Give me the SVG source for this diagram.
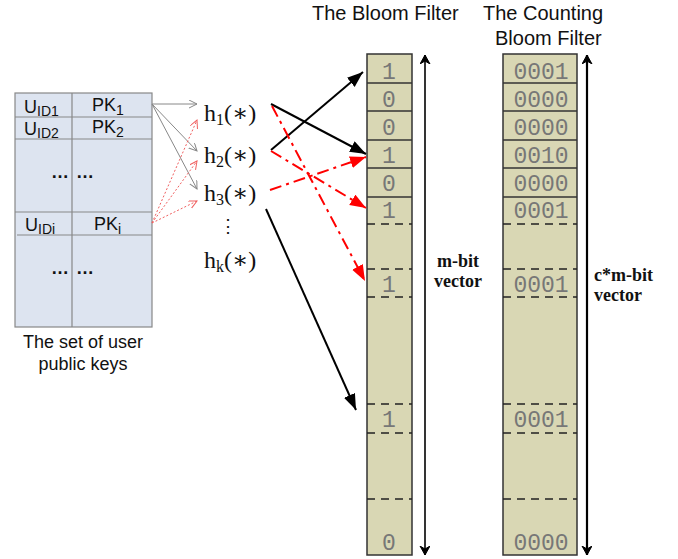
<svg xmlns="http://www.w3.org/2000/svg" width="678" height="559" viewBox="0 0 678 559">
<style>
.sans{font-family:"Liberation Sans",Arial,sans-serif;fill:#111}
.ser{font-family:"Liberation Serif","DejaVu Serif",serif;fill:#111}
.bold{font-family:"Liberation Serif",serif;font-weight:bold;fill:#111}
.mono{font-family:"Liberation Mono","Courier New",monospace;font-size:23px;fill:#777;text-anchor:middle}
.cell{fill:#d9d7b4;stroke:#333;stroke-width:1.5}
.sol{stroke:#333;stroke-width:1.5}
.dash{stroke:#222;stroke-width:1.5;stroke-dasharray:8 6}
.tbl{fill:#dde4f0;stroke:#888;stroke-width:1.2}
.tl{stroke:#888;stroke-width:1.2}
</style>
<defs>
<marker id="blk" markerUnits="userSpaceOnUse" markerWidth="18" markerHeight="14" refX="16" refY="6" orient="auto"><path d="M0,0 L16,6 L0,12 z" fill="#000"/></marker>
<marker id="red" markerUnits="userSpaceOnUse" markerWidth="18" markerHeight="14" refX="16" refY="6" orient="auto"><path d="M0,0 L16,6 L0,12 z" fill="#f00"/></marker>
<marker id="gry" markerUnits="userSpaceOnUse" markerWidth="10" markerHeight="10" refX="8" refY="4" orient="auto"><path d="M0,0 L8,4 L0,8" fill="none" stroke="#888" stroke-width="1"/></marker>
<marker id="pink" markerUnits="userSpaceOnUse" markerWidth="10" markerHeight="10" refX="8" refY="4" orient="auto"><path d="M0,0 L8,4 L0,8" fill="none" stroke="#f06060" stroke-width="1"/></marker>
<marker id="vt" markerUnits="userSpaceOnUse" markerWidth="12" markerHeight="12" refX="9" refY="5" orient="auto-start-reverse"><path d="M0,0 L9,5 L0,10 L3,5 z" fill="#000" stroke="#000" stroke-width="1"/></marker>
</defs>

<g id="table">
<rect class="tbl" x="15" y="93" width="137" height="234"/>
<line class="tl" x1="72" y1="93" x2="72" y2="327"/>
<line class="tl" x1="15" y1="117" x2="152" y2="117"/>
<line class="tl" x1="15" y1="139" x2="152" y2="139"/>
<line class="tl" x1="15" y1="212" x2="152" y2="212"/>
<line class="tl" x1="17" y1="235" x2="152" y2="235"/>
<text class="sans" x="24" y="113" font-size="18">U<tspan font-size="14" dy="3">ID1</tspan></text>
<text class="sans" x="92" y="111" font-size="18">PK<tspan font-size="14" dy="4">1</tspan></text>
<text class="sans" x="24" y="135" font-size="18">U<tspan font-size="14" dy="3">ID2</tspan></text>
<text class="sans" x="92" y="133" font-size="18">PK<tspan font-size="14" dy="4">2</tspan></text>
<text class="sans" x="51" y="178" font-size="18" font-weight="bold">…</text>
<text class="sans" x="76" y="178" font-size="18" font-weight="bold">…</text>
<text class="sans" x="25" y="231" font-size="18">U<tspan font-size="14" dy="3">IDi</tspan></text>
<text class="sans" x="94" y="230" font-size="18">PK<tspan font-size="14" dy="4">i</tspan></text>
<text class="sans" x="51" y="274" font-size="18" font-weight="bold">…</text>
<text class="sans" x="76" y="274" font-size="18" font-weight="bold">…</text>
<text class="sans" x="83" y="348" font-size="18" text-anchor="middle">The set of user</text>
<text class="sans" x="83" y="370" font-size="18" text-anchor="middle">public keys</text>
</g>

<g id="hashes">
<text class="ser" x="204" y="121" font-size="24">h<tspan font-size="16" dy="4">1</tspan><tspan dy="-4">(∗)</tspan></text>
<text class="ser" x="204" y="163" font-size="24">h<tspan font-size="16" dy="4">2</tspan><tspan dy="-4">(∗)</tspan></text>
<text class="ser" x="204" y="201" font-size="24">h<tspan font-size="16" dy="4">3</tspan><tspan dy="-4">(∗)</tspan></text>
<text class="ser" x="228" y="232" font-size="18" text-anchor="middle">⋮</text>
<text class="ser" x="204" y="268" font-size="24">h<tspan font-size="16" dy="4">k</tspan><tspan dy="-4">(∗)</tspan></text>
</g>

<g id="bloom">
<rect class="cell" x="367" y="54" width="45" height="501"/>
<line class="sol" x1="367" y1="83" x2="412" y2="83"/>
<line class="sol" x1="367" y1="111" x2="412" y2="111"/>
<line class="sol" x1="367" y1="140" x2="412" y2="140"/>
<line class="sol" x1="367" y1="168" x2="412" y2="168"/>
<line class="sol" x1="367" y1="197" x2="412" y2="197"/>
<line class="dash" x1="367" y1="224" x2="412" y2="224"/>
<line class="dash" x1="367" y1="269" x2="412" y2="269"/>
<line class="dash" x1="367" y1="297" x2="412" y2="297"/>
<line class="dash" x1="367" y1="404" x2="412" y2="404"/>
<line class="dash" x1="367" y1="433" x2="412" y2="433"/>
<line class="dash" x1="367" y1="499" x2="412" y2="499"/>
<text class="mono" x="389" y="79">1</text>
<text class="mono" x="389" y="107">0</text>
<text class="mono" x="389" y="135">0</text>
<text class="mono" x="389" y="163">1</text>
<text class="mono" x="389" y="191">0</text>
<text class="mono" x="389" y="218">1</text>
<text class="mono" x="389" y="292">1</text>
<text class="mono" x="389" y="427">1</text>
<text class="mono" x="389" y="550">0</text>
</g>

<g id="counting">
<rect class="cell" x="503" y="54" width="74" height="501"/>
<line class="sol" x1="503" y1="83" x2="577" y2="83"/>
<line class="sol" x1="503" y1="111" x2="577" y2="111"/>
<line class="sol" x1="503" y1="140" x2="577" y2="140"/>
<line class="sol" x1="503" y1="168" x2="577" y2="168"/>
<line class="sol" x1="503" y1="197" x2="577" y2="197"/>
<line class="dash" x1="503" y1="224" x2="577" y2="224" stroke-width="2" stroke-dasharray="12 6"/>
<line class="dash" x1="503" y1="269" x2="577" y2="269" stroke-width="2" stroke-dasharray="12 6"/>
<line class="dash" x1="503" y1="297" x2="577" y2="297" stroke-width="2" stroke-dasharray="12 6"/>
<line class="dash" x1="503" y1="404" x2="577" y2="404" stroke-width="2" stroke-dasharray="12 6"/>
<line class="dash" x1="503" y1="433" x2="577" y2="433" stroke-width="2" stroke-dasharray="12 6"/>
<line class="dash" x1="503" y1="499" x2="577" y2="499" stroke-width="2" stroke-dasharray="12 6"/>
<text class="mono" x="541" y="79">0001</text>
<text class="mono" x="541" y="107">0000</text>
<text class="mono" x="541" y="135">0000</text>
<text class="mono" x="541" y="163">0010</text>
<text class="mono" x="541" y="191">0000</text>
<text class="mono" x="541" y="218">0001</text>
<text class="mono" x="541" y="292">0001</text>
<text class="mono" x="541" y="427">0001</text>
<text class="mono" x="541" y="550">0000</text>
</g>

<g id="titles">
<text class="sans" x="312" y="20" font-size="20">The Bloom Filter</text>
<text class="sans" x="483" y="20" font-size="20">The Counting</text>
<text class="sans" x="495" y="45" font-size="20">Bloom Filter</text>
<text class="bold" x="437" y="267" font-size="18">m-bit</text>
<text class="bold" x="434" y="287" font-size="18">vector</text>
<text class="bold" x="594" y="281" font-size="18">c*m-bit</text>
<text class="bold" x="594" y="301" font-size="18">vector</text>
</g>

<g id="connectors">
<line x1="425" y1="555" x2="425" y2="55" stroke="#000" stroke-width="1.6" marker-start="url(#vt)" marker-end="url(#vt)"/>
<line x1="587" y1="555" x2="587" y2="55" stroke="#000" stroke-width="2.2" marker-start="url(#vt)" marker-end="url(#vt)"/>

<line x1="152" y1="104" x2="197" y2="104" stroke="#888" stroke-width="1" marker-end="url(#gry)"/>
<line x1="152" y1="104" x2="197" y2="151" stroke="#888" stroke-width="1" marker-end="url(#gry)"/>
<line x1="152" y1="104" x2="197" y2="189" stroke="#888" stroke-width="1" marker-end="url(#gry)"/>
<line x1="152" y1="223" x2="197" y2="120" stroke="#f06060" stroke-width="1" stroke-dasharray="2 2" marker-end="url(#pink)"/>
<line x1="152" y1="223" x2="197" y2="161" stroke="#f06060" stroke-width="1" stroke-dasharray="2 2" marker-end="url(#pink)"/>
<line x1="152" y1="223" x2="197" y2="201" stroke="#f06060" stroke-width="1" stroke-dasharray="2 2" marker-end="url(#pink)"/>

<line x1="271" y1="104" x2="366" y2="154" stroke="#000" stroke-width="2" marker-end="url(#blk)"/>
<line x1="271" y1="150" x2="363" y2="72" stroke="#000" stroke-width="2" marker-end="url(#blk)"/>
<line x1="266" y1="209" x2="356" y2="410" stroke="#000" stroke-width="2" marker-end="url(#blk)"/>
<line x1="272" y1="106" x2="365" y2="281" stroke="#f00" stroke-width="2" stroke-dasharray="12 5 3 5" marker-end="url(#red)"/>
<line x1="271" y1="151" x2="366" y2="208" stroke="#f00" stroke-width="2" stroke-dasharray="12 5 3 5" marker-end="url(#red)"/>
<line x1="270" y1="190" x2="366" y2="157" stroke="#f00" stroke-width="2" stroke-dasharray="12 5 3 5" marker-end="url(#red)"/>
</g>
</svg>
